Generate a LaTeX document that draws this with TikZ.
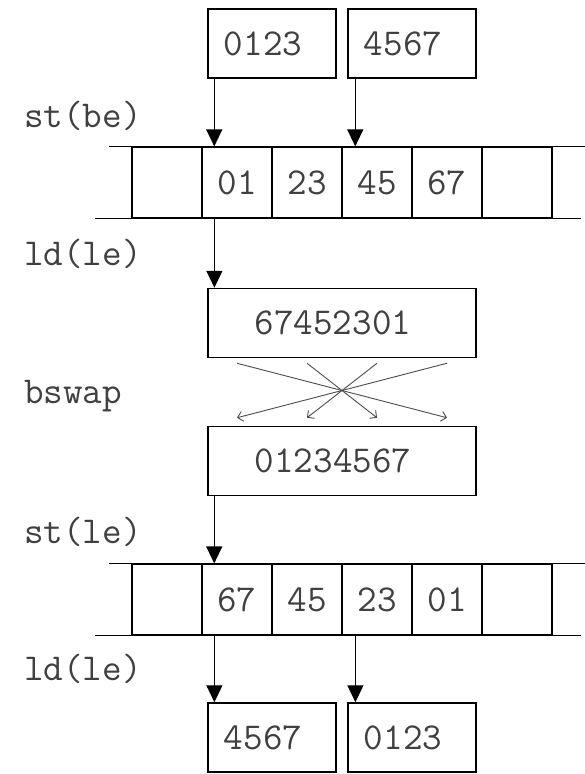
\documentclass[tikz,border=0pt]{standalone}
\usepackage{fontspec}
\usetikzlibrary{arrows.meta}

\begin{document}
\begin{tikzpicture} [x=1pt,y=-1pt,
			font=\fontsize{38}{40}\selectfont\ttfamily,
			word/.style={draw,line width=1.5pt,text=black!75,minimum height=69,inner sep=0pt,
				execute at end node={\hspace{18pt}}},
			half/.style={word,minimum width=128},
			full/.style={word,minimum width=268},
			cell/.style={draw,line width=1.2pt,text=black!75,minimum width=70,minimum height=71,inner sep=0pt},
			lbl/.style={anchor=base west,inner sep=0pt,text=black!75},
			move/.style={-{Triangle[width=16pt,length=17pt]},line width=1.3pt},
			swap/.style={-{Straight Barb[width=10pt,length=5pt]},line width=0.9pt,black!70}]
			\useasboundingbox (0,0) rectangle (584,774);

			% registers
			\node[half] (hi) at (272,43.5) {0123};
			\node[half] (lo) at (412,43.5) {4567};
			\node[full] (loaded) at (342,323) {67452301};
			\node[full] (swapped) at (342,461) {01234567};
			\node[half] (out1) at (272,737.5) {4567};
			\node[half] (out2) at (412,737.5) {0123};

			% memory
			\foreach \t [count=\i] in {{},01,23,45,67,{}}
				\node[cell] (a\i) at (97+70*\i,182.5) {\t};
			\foreach \t [count=\i] in {{},67,45,23,01,{}}
				\node[cell] (b\i) at (97+70*\i,599.5) {\t};
			\draw[line width=1.2pt] (a1.north west) -- ++(-22,0) (a6.north east) -- ++(32,0)
				(a1.south west) -- ++(-36,0) (a6.south east) -- ++(28,0);
			\draw[line width=1.2pt] (b1.north west) -- ++(-22,0) (b6.north east) -- ++(32,0)
				(b1.south west) -- ++(-36,0) (b6.south east) -- ++(28,0);

			\node[lbl] (stbe) at (24,127) {st(be)};
			\node[lbl] (ldle1) at (24,265) {ld(le)};
			\node[lbl] (bswap) at (24,403) {bswap};
			\node[lbl] (stle) at (24,543) {st(le)};
			\node[lbl] (ldle2) at (24,680) {ld(le)};

			\draw[move] ([xshift=7pt]hi.south west) -- ([xshift=7pt]hi.south west |- a2.north);
			\draw[move] ([xshift=8pt]lo.south west) -- ([xshift=8pt]lo.south west |- a4.north);
			\draw[move] ([xshift=13pt]a2.south west) -- ([xshift=13pt]a2.south west |- loaded.north);
			\foreach \a/\b in {-105/105,-35/35,35/-35,105/-105}
				\draw[swap] ([xshift=\a pt,yshift=-5pt]loaded.south) -- ([xshift=\b pt,yshift=8pt]swapped.north);
			\draw[move] ([xshift=7pt]swapped.south west) -- ([xshift=7pt]swapped.south west |- b2.north);
			\draw[move] ([xshift=13pt]b2.south west) -- ([xshift=13pt]b2.south west |- out1.north);
			\draw[move] ([xshift=14pt]b4.south west) -- ([xshift=14pt]b4.south west |- out2.north);
		\end{tikzpicture}
\end{document}
